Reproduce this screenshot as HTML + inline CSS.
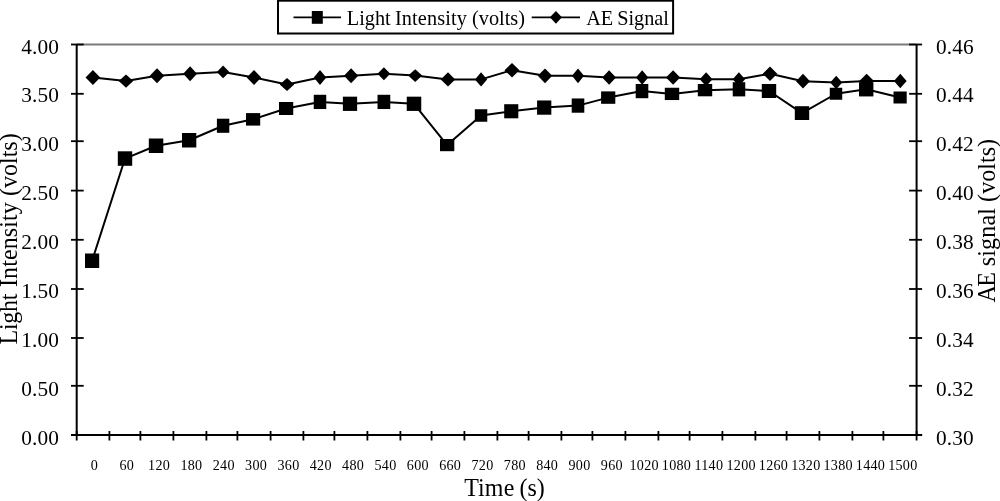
<!DOCTYPE html>
<html><head><meta charset="utf-8"><title>chart</title>
<style>
html,body{margin:0;padding:0;background:#fff;}
body{width:1000px;height:501px;overflow:hidden;position:relative;font-family:"Liberation Serif",serif;}
svg{position:absolute;left:0;top:0;filter:grayscale(1);}
text{font-family:"Liberation Serif",serif;fill:#000;}
</style></head><body>
<svg width="1000" height="501" viewBox="0 0 1000 501">
<rect x="0" y="0" width="1000" height="501" fill="#fff"/>

<line x1="76.7" y1="44.5" x2="916.6" y2="44.5" stroke="#7b7b7b" stroke-width="1.8"/>
<line x1="76.7" y1="44.5" x2="76.7" y2="436.0" stroke="#000" stroke-width="2.0"/>
<line x1="916.6" y1="44.5" x2="916.6" y2="436.0" stroke="#000" stroke-width="2.0"/>
<line x1="71.0" y1="435.0" x2="922.1" y2="435.0" stroke="#000" stroke-width="2.1"/>
<line x1="71.0" y1="44.50" x2="83.7" y2="44.50" stroke="#000" stroke-width="1.8"/>
<line x1="909.1" y1="44.50" x2="922.1" y2="44.50" stroke="#000" stroke-width="1.8"/>
<text x="59" y="53.55" font-size="21.3" text-anchor="end" letter-spacing="0.15">4.00</text>
<text x="936" y="53.55" font-size="21.3" text-anchor="start" letter-spacing="0.15">0.46</text>
<line x1="71.0" y1="93.80" x2="83.7" y2="93.80" stroke="#000" stroke-width="1.8"/>
<line x1="909.1" y1="93.80" x2="922.1" y2="93.80" stroke="#000" stroke-width="1.8"/>
<text x="59" y="102.48" font-size="21.3" text-anchor="end" letter-spacing="0.15">3.50</text>
<text x="936" y="102.48" font-size="21.3" text-anchor="start" letter-spacing="0.15">0.44</text>
<line x1="71.0" y1="141.20" x2="83.7" y2="141.20" stroke="#000" stroke-width="1.8"/>
<line x1="909.1" y1="141.20" x2="922.1" y2="141.20" stroke="#000" stroke-width="1.8"/>
<text x="59" y="151.41" font-size="21.3" text-anchor="end" letter-spacing="0.15">3.00</text>
<text x="936" y="151.41" font-size="21.3" text-anchor="start" letter-spacing="0.15">0.42</text>
<line x1="71.0" y1="190.60" x2="83.7" y2="190.60" stroke="#000" stroke-width="1.8"/>
<line x1="909.1" y1="190.60" x2="922.1" y2="190.60" stroke="#000" stroke-width="1.8"/>
<text x="59" y="200.34" font-size="21.3" text-anchor="end" letter-spacing="0.15">2.50</text>
<text x="936" y="200.34" font-size="21.3" text-anchor="start" letter-spacing="0.15">0.40</text>
<line x1="71.0" y1="239.80" x2="83.7" y2="239.80" stroke="#000" stroke-width="1.8"/>
<line x1="909.1" y1="239.80" x2="922.1" y2="239.80" stroke="#000" stroke-width="1.8"/>
<text x="59" y="249.27" font-size="21.3" text-anchor="end" letter-spacing="0.15">2.00</text>
<text x="936" y="249.27" font-size="21.3" text-anchor="start" letter-spacing="0.15">0.38</text>
<line x1="71.0" y1="289.00" x2="83.7" y2="289.00" stroke="#000" stroke-width="1.8"/>
<line x1="909.1" y1="289.00" x2="922.1" y2="289.00" stroke="#000" stroke-width="1.8"/>
<text x="59" y="298.20" font-size="21.3" text-anchor="end" letter-spacing="0.15">1.50</text>
<text x="936" y="298.20" font-size="21.3" text-anchor="start" letter-spacing="0.15">0.36</text>
<line x1="71.0" y1="338.00" x2="83.7" y2="338.00" stroke="#000" stroke-width="1.8"/>
<line x1="909.1" y1="338.00" x2="922.1" y2="338.00" stroke="#000" stroke-width="1.8"/>
<text x="59" y="347.13" font-size="21.3" text-anchor="end" letter-spacing="0.15">1.00</text>
<text x="936" y="347.13" font-size="21.3" text-anchor="start" letter-spacing="0.15">0.34</text>
<line x1="71.0" y1="385.80" x2="83.7" y2="385.80" stroke="#000" stroke-width="1.8"/>
<line x1="909.1" y1="385.80" x2="922.1" y2="385.80" stroke="#000" stroke-width="1.8"/>
<text x="59" y="396.06" font-size="21.3" text-anchor="end" letter-spacing="0.15">0.50</text>
<text x="936" y="396.06" font-size="21.3" text-anchor="start" letter-spacing="0.15">0.32</text>
<line x1="71.0" y1="435.00" x2="83.7" y2="435.00" stroke="#000" stroke-width="1.8"/>
<line x1="909.1" y1="435.00" x2="922.1" y2="435.00" stroke="#000" stroke-width="1.8"/>
<text x="59" y="444.99" font-size="21.3" text-anchor="end" letter-spacing="0.15">0.00</text>
<text x="936" y="444.99" font-size="21.3" text-anchor="start" letter-spacing="0.15">0.30</text>
<line x1="76.70" y1="431" x2="76.70" y2="440.5" stroke="#000" stroke-width="1.8"/>
<line x1="109.40" y1="431" x2="109.40" y2="440.5" stroke="#000" stroke-width="1.8"/>
<line x1="140.40" y1="431" x2="140.40" y2="440.5" stroke="#000" stroke-width="1.8"/>
<line x1="173.40" y1="431" x2="173.40" y2="440.5" stroke="#000" stroke-width="1.8"/>
<line x1="206.40" y1="431" x2="206.40" y2="440.5" stroke="#000" stroke-width="1.8"/>
<line x1="237.40" y1="431" x2="237.40" y2="440.5" stroke="#000" stroke-width="1.8"/>
<line x1="270.60" y1="431" x2="270.60" y2="440.5" stroke="#000" stroke-width="1.8"/>
<line x1="303.40" y1="431" x2="303.40" y2="440.5" stroke="#000" stroke-width="1.8"/>
<line x1="334.40" y1="431" x2="334.40" y2="440.5" stroke="#000" stroke-width="1.8"/>
<line x1="367.40" y1="431" x2="367.40" y2="440.5" stroke="#000" stroke-width="1.8"/>
<line x1="400.40" y1="431" x2="400.40" y2="440.5" stroke="#000" stroke-width="1.8"/>
<line x1="431.60" y1="431" x2="431.60" y2="440.5" stroke="#000" stroke-width="1.8"/>
<line x1="464.40" y1="431" x2="464.40" y2="440.5" stroke="#000" stroke-width="1.8"/>
<line x1="497.40" y1="431" x2="497.40" y2="440.5" stroke="#000" stroke-width="1.8"/>
<line x1="528.60" y1="431" x2="528.60" y2="440.5" stroke="#000" stroke-width="1.8"/>
<line x1="561.40" y1="431" x2="561.40" y2="440.5" stroke="#000" stroke-width="1.8"/>
<line x1="592.40" y1="431" x2="592.40" y2="440.5" stroke="#000" stroke-width="1.8"/>
<line x1="625.40" y1="431" x2="625.40" y2="440.5" stroke="#000" stroke-width="1.8"/>
<line x1="658.40" y1="431" x2="658.40" y2="440.5" stroke="#000" stroke-width="1.8"/>
<line x1="689.60" y1="431" x2="689.60" y2="440.5" stroke="#000" stroke-width="1.8"/>
<line x1="722.40" y1="431" x2="722.40" y2="440.5" stroke="#000" stroke-width="1.8"/>
<line x1="755.40" y1="431" x2="755.40" y2="440.5" stroke="#000" stroke-width="1.8"/>
<line x1="786.60" y1="431" x2="786.60" y2="440.5" stroke="#000" stroke-width="1.8"/>
<line x1="819.40" y1="431" x2="819.40" y2="440.5" stroke="#000" stroke-width="1.8"/>
<line x1="852.40" y1="431" x2="852.40" y2="440.5" stroke="#000" stroke-width="1.8"/>
<line x1="883.40" y1="431" x2="883.40" y2="440.5" stroke="#000" stroke-width="1.8"/>
<line x1="916.60" y1="431" x2="916.60" y2="440.5" stroke="#000" stroke-width="1.8"/>
<text x="94.45" y="470" font-size="14.1" text-anchor="middle" letter-spacing="0.3">0</text>
<text x="126.79" y="470" font-size="14.1" text-anchor="middle" letter-spacing="0.3">60</text>
<text x="159.12" y="470" font-size="14.1" text-anchor="middle" letter-spacing="0.3">120</text>
<text x="191.46" y="470" font-size="14.1" text-anchor="middle" letter-spacing="0.3">180</text>
<text x="223.79" y="470" font-size="14.1" text-anchor="middle" letter-spacing="0.3">240</text>
<text x="256.13" y="470" font-size="14.1" text-anchor="middle" letter-spacing="0.3">300</text>
<text x="288.47" y="470" font-size="14.1" text-anchor="middle" letter-spacing="0.3">360</text>
<text x="320.80" y="470" font-size="14.1" text-anchor="middle" letter-spacing="0.3">420</text>
<text x="353.14" y="470" font-size="14.1" text-anchor="middle" letter-spacing="0.3">480</text>
<text x="385.47" y="470" font-size="14.1" text-anchor="middle" letter-spacing="0.3">540</text>
<text x="417.81" y="470" font-size="14.1" text-anchor="middle" letter-spacing="0.3">600</text>
<text x="450.15" y="470" font-size="14.1" text-anchor="middle" letter-spacing="0.3">660</text>
<text x="482.48" y="470" font-size="14.1" text-anchor="middle" letter-spacing="0.3">720</text>
<text x="514.82" y="470" font-size="14.1" text-anchor="middle" letter-spacing="0.3">780</text>
<text x="547.15" y="470" font-size="14.1" text-anchor="middle" letter-spacing="0.3">840</text>
<text x="579.49" y="470" font-size="14.1" text-anchor="middle" letter-spacing="0.3">900</text>
<text x="611.83" y="470" font-size="14.1" text-anchor="middle" letter-spacing="0.3">960</text>
<text x="644.16" y="470" font-size="14.1" text-anchor="middle" letter-spacing="0.3">1020</text>
<text x="676.50" y="470" font-size="14.1" text-anchor="middle" letter-spacing="0.3">1080</text>
<text x="708.83" y="470" font-size="14.1" text-anchor="middle" letter-spacing="0.3">1140</text>
<text x="741.17" y="470" font-size="14.1" text-anchor="middle" letter-spacing="0.3">1200</text>
<text x="773.51" y="470" font-size="14.1" text-anchor="middle" letter-spacing="0.3">1260</text>
<text x="805.84" y="470" font-size="14.1" text-anchor="middle" letter-spacing="0.3">1320</text>
<text x="838.18" y="470" font-size="14.1" text-anchor="middle" letter-spacing="0.3">1380</text>
<text x="870.51" y="470" font-size="14.1" text-anchor="middle" letter-spacing="0.3">1440</text>
<text x="902.85" y="470" font-size="14.1" text-anchor="middle" letter-spacing="0.3">1500</text>
<polyline points="92.10,260.75 125.00,158.55 156.05,145.75 189.15,140.25 223.10,125.75 253.10,119.35 286.10,108.50 320.00,101.90 350.00,103.80 383.90,101.90 414.00,103.80 447.15,145.10 481.05,115.50 511.25,111.25 544.20,107.60 578.00,105.60 608.20,97.60 642.00,91.10 672.00,93.90 705.00,90.15 739.00,89.30 769.00,91.00 802.00,113.10 836.00,93.75 866.20,89.30 900.10,97.50" fill="none" stroke="#000" stroke-width="2.0" stroke-linejoin="round"/>
<polyline points="92.90,77.50 126.00,81.10 157.00,75.70 190.10,73.75 223.10,71.90 254.00,77.50 287.00,84.50 320.00,77.50 351.10,75.70 383.90,73.75 415.20,75.60 448.00,79.40 481.05,79.40 512.00,70.20 545.00,75.85 578.00,75.85 609.10,77.50 642.15,77.50 673.10,77.50 706.10,79.20 738.90,79.20 770.00,73.70 803.00,81.15 836.20,82.50 866.65,81.00 900.30,81.00" fill="none" stroke="#000" stroke-width="2.0" stroke-linejoin="round"/>
<rect x="85.00" y="253.50" width="14.20" height="14.50" fill="#000"/>
<rect x="117.80" y="151.30" width="14.40" height="14.50" fill="#000"/>
<rect x="148.80" y="138.50" width="14.50" height="14.50" fill="#000"/>
<rect x="182.00" y="133.00" width="14.30" height="14.50" fill="#000"/>
<rect x="216.90" y="118.70" width="12.40" height="14.10" fill="#000"/>
<rect x="246.00" y="113.10" width="14.20" height="12.50" fill="#000"/>
<rect x="278.98" y="102.00" width="14.25" height="13.00" fill="#000"/>
<rect x="313.75" y="94.78" width="12.50" height="14.25" fill="#000"/>
<rect x="342.88" y="96.67" width="14.25" height="14.25" fill="#000"/>
<rect x="377.52" y="94.78" width="12.75" height="14.25" fill="#000"/>
<rect x="406.75" y="96.67" width="14.50" height="14.25" fill="#000"/>
<rect x="440.00" y="139.00" width="14.30" height="12.20" fill="#000"/>
<rect x="474.82" y="109.25" width="12.45" height="12.50" fill="#000"/>
<rect x="504.20" y="104.20" width="14.10" height="14.10" fill="#000"/>
<rect x="537.08" y="100.47" width="14.25" height="14.25" fill="#000"/>
<rect x="571.70" y="98.47" width="12.60" height="14.25" fill="#000"/>
<rect x="601.10" y="91.40" width="14.20" height="12.40" fill="#000"/>
<rect x="635.70" y="83.97" width="12.60" height="14.25" fill="#000"/>
<rect x="664.80" y="87.75" width="14.40" height="12.30" fill="#000"/>
<rect x="697.80" y="84.00" width="14.40" height="12.30" fill="#000"/>
<rect x="732.75" y="82.20" width="12.50" height="14.20" fill="#000"/>
<rect x="761.80" y="84.00" width="14.40" height="14.00" fill="#000"/>
<rect x="794.80" y="106.20" width="14.40" height="13.80" fill="#000"/>
<rect x="829.77" y="87.75" width="12.45" height="12.00" fill="#000"/>
<rect x="859.00" y="82.17" width="14.40" height="14.25" fill="#000"/>
<rect x="893.50" y="91.50" width="13.20" height="12.00" fill="#000"/>
<polygon points="85.55,77.50 92.90,70.00 100.25,77.50 92.90,85.00" fill="#000"/>
<polygon points="118.75,81.10 126.00,74.50 133.25,81.10 126.00,87.70" fill="#000"/>
<polygon points="149.75,75.70 157.00,68.20 164.25,75.70 157.00,83.20" fill="#000"/>
<polygon points="183.20,73.75 190.10,66.25 197.00,73.75 190.10,81.25" fill="#000"/>
<polygon points="216.80,71.90 223.10,65.50 229.40,71.90 223.10,78.30" fill="#000"/>
<polygon points="246.75,77.50 254.00,70.00 261.25,77.50 254.00,85.00" fill="#000"/>
<polygon points="279.75,84.50 287.00,78.00 294.25,84.50 287.00,91.00" fill="#000"/>
<polygon points="313.75,77.50 320.00,70.00 326.25,77.50 320.00,85.00" fill="#000"/>
<polygon points="344.00,75.70 351.10,68.20 358.20,75.70 351.10,83.20" fill="#000"/>
<polygon points="377.52,73.75 383.90,67.30 390.27,73.75 383.90,80.20" fill="#000"/>
<polygon points="408.20,75.60 415.20,69.22 422.20,75.60 415.20,81.97" fill="#000"/>
<polygon points="440.80,79.40 448.00,72.28 455.20,79.40 448.00,86.53" fill="#000"/>
<polygon points="474.95,79.40 481.05,72.28 487.15,79.40 481.05,86.53" fill="#000"/>
<polygon points="504.50,70.20 512.00,62.95 519.50,70.20 512.00,77.45" fill="#000"/>
<polygon points="537.80,75.85 545.00,68.50 552.20,75.85 545.00,83.20" fill="#000"/>
<polygon points="572.00,75.85 578.00,68.50 584.00,75.85 578.00,83.20" fill="#000"/>
<polygon points="602.20,77.50 609.10,70.25 616.00,77.50 609.10,84.75" fill="#000"/>
<polygon points="636.00,77.50 642.15,70.25 648.30,77.50 642.15,84.75" fill="#000"/>
<polygon points="665.98,77.50 673.10,70.25 680.23,77.50 673.10,84.75" fill="#000"/>
<polygon points="699.73,79.20 706.10,72.20 712.48,79.20 706.10,86.20" fill="#000"/>
<polygon points="732.70,79.20 738.90,72.20 745.10,79.20 738.90,86.20" fill="#000"/>
<polygon points="762.75,73.70 770.00,66.45 777.25,73.70 770.00,80.95" fill="#000"/>
<polygon points="796.00,81.15 803.00,73.80 810.00,81.15 803.00,88.50" fill="#000"/>
<polygon points="830.20,82.50 836.20,75.75 842.20,82.50 836.20,89.25" fill="#000"/>
<polygon points="859.30,81.00 866.65,73.80 874.00,81.00 866.65,88.20" fill="#000"/>
<polygon points="893.92,81.00 900.30,73.80 906.67,81.00 900.30,88.20" fill="#000"/>
<rect x="278" y="0.7" width="395.1" height="32.8" fill="#fff" stroke="#000" stroke-width="2"/>
<line x1="293.5" y1="17.3" x2="341" y2="17.3" stroke="#000" stroke-width="1.8"/>
<rect x="311.8" y="11" width="11" height="12.8" fill="#000"/>
<line x1="531.7" y1="17.3" x2="580" y2="17.3" stroke="#000" stroke-width="1.8"/>
<polygon points="549.9,17.3 555.9,10.9 561.9,17.3 555.9,23.7" fill="#000"/>
<g transform="translate(0,25.2) scale(1,1.035)" font-size="20.3">
<text x="346.80" y="0" letter-spacing="0.000">Light</text>
<text x="394.90" y="0" letter-spacing="0.125">Intensity</text>
<text x="472.00" y="0" letter-spacing="0.000">(volts)</text>
<text x="586.20" y="0" letter-spacing="0.000">AE</text>
<text x="617.30" y="0" letter-spacing="-0.050">Signal</text>
</g>
<g transform="translate(0,495.8) scale(1,1.015)" font-size="24">
<text x="464.20" y="0" letter-spacing="0.000">Tim</text>
<text x="503.80" y="0" letter-spacing="0.000">e</text>
<text x="519.50" y="0" letter-spacing="0.000">(s)</text>
</g>
<g transform="translate(16.7,0) rotate(-90) scale(1,1.04)" font-size="24">
<text x="-344.50" y="0" letter-spacing="-0.250">Light</text>
<text x="-287.00" y="0" letter-spacing="0.100">Intensity</text>
<text x="-196.00" y="0" letter-spacing="0.000">(volts)</text>
</g>
<g transform="translate(994.8,0) rotate(-90) scale(1,1.02)" font-size="24">
<text x="-302.60" y="0" letter-spacing="-1.400">AE</text>
<text x="-266.20" y="0" letter-spacing="0.150">signal</text>
<text x="-201.90" y="0" letter-spacing="0.050">(volts)</text>
</g>
</svg></body></html>
